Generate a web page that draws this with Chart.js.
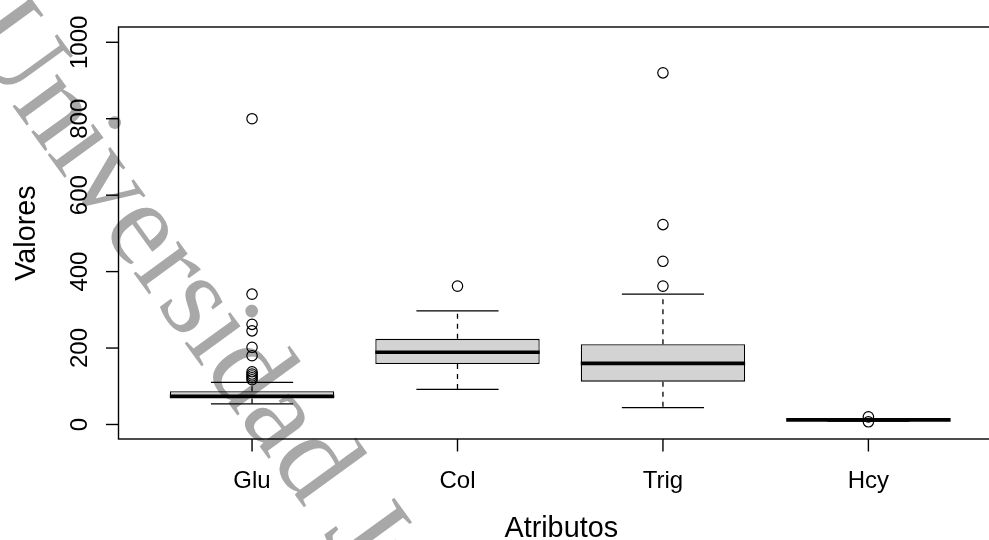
<!DOCTYPE html>
<html>
<head>
<meta charset="utf-8">
<script src="https://cdn.jsdelivr.net/npm/chart.js@4.4.1/dist/chart.umd.min.js"></script>
<style>
  html, body { margin: 0; padding: 0; background: #fff; overflow: hidden; }
  #wrap { width: 989px; height: 540px; overflow: hidden; }
</style>
</head>
<body>
<div id="wrap"><canvas id="box-chart" width="1020" height="540"></canvas></div>
<script>
const categories = ['Glu', 'Col', 'Trig', 'Hcy'];
const lowerWhisker = [54, 92, 44, 9];
const q1Values = [68, 158, 112, 10.5];
const medianValues = [74, 189, 160, 12];
const q3Values = [87, 224, 210, 13];
const upperWhisker = [110, 297, 341, 15];
const outlierValues = [
  [800, 341, 262, 245, 202, 180, 138, 132, 127, 122, 117],
  [362],
  [920, 523, 427, 362],
  [20, 7],
];
const yTicks = [0, 200, 400, 600, 800, 1000];
const xTitle = 'Atributos';
const yTitle = 'Valores';
const watermark = 'Universidad Juárez';

const BOX_HALF = 0.4;
const CAP_HALF = 0.2;
const PLOT_RIGHT = 1004; // el gráfico original está recortado a la derecha
const SANS = '"Liberation Sans", Arial, sans-serif';

// segmentos horizontales separados por null
const segments = (vals, half) =>
  vals.flatMap((v, i) => [
    { x: i + 1 - half, y: v },
    { x: i + 1 + half, y: v },
    { x: i + 1.5, y: null },
  ]);

const stems = categories.flatMap((c, i) => [
  { x: i + 1, y: q3Values[i] },
  { x: i + 1, y: upperWhisker[i] },
  { x: i + 1.5, y: null },
  { x: i + 1, y: q1Values[i] },
  { x: i + 1, y: lowerWhisker[i] },
  { x: i + 1.5, y: null },
]);

const outlierPoints = outlierValues.flatMap((vals, i) => vals.map(v => ({ x: i + 1, y: v })));

const framePlugin = {
  id: 'rframe',
  afterDraw(chart) {
    const { ctx, chartArea: a, scales } = chart;
    const xs = scales.x, ys = scales.y;
    ctx.save();
    ctx.strokeStyle = '#000';
    ctx.lineWidth = 1.4;
    ctx.strokeRect(a.left, a.top, a.right - a.left, a.bottom - a.top);

    // ticks eje y
    ctx.fillStyle = '#000';
    ctx.font = '24px ' + SANS;
    yTicks.forEach(t => {
      const py = ys.getPixelForValue(t);
      ctx.beginPath();
      ctx.moveTo(a.left - 12.5, py);
      ctx.lineTo(a.left, py);
      ctx.stroke();
      ctx.save();
      ctx.translate(87, py);
      ctx.rotate(-Math.PI / 2);
      ctx.textAlign = 'center';
      ctx.textBaseline = 'alphabetic';
      ctx.fillText(String(t), 0, 0);
      ctx.restore();
    });

    // ticks eje x
    xs.ticks.forEach(t => {
      const px = xs.getPixelForValue(t.value);
      ctx.beginPath();
      ctx.moveTo(px, a.bottom);
      ctx.lineTo(px, a.bottom + 12.5);
      ctx.stroke();
      ctx.textAlign = 'center';
      ctx.textBaseline = 'alphabetic';
      ctx.fillText(categories[t.value - 1], px, 487.5);
    });

    // títulos
    ctx.font = '28.8px ' + SANS;
    ctx.textAlign = 'center';
    ctx.fillText(xTitle, (a.left + a.right) / 2, 536.5);
    ctx.save();
    ctx.translate(35, (a.top + a.bottom) / 2);
    ctx.rotate(-Math.PI / 2);
    ctx.fillText(yTitle, 0, 0);
    ctx.restore();

    // marca de agua
    ctx.globalCompositeOperation = 'multiply';
    ctx.fillStyle = '#a8a8a8';
    ctx.font = '120px "Liberation Serif", "DejaVu Serif", serif';
    ctx.textAlign = 'left';
    ctx.translate(-40, 34);
    ctx.rotate(54 * Math.PI / 180);
    ctx.fillText(watermark, 0, 0);
    ctx.restore();
  },
};

const lineDefaults = {
  type: 'line',
  borderColor: '#000',
  pointRadius: 0,
  fill: false,
  tension: 0,
  spanGaps: false,
};

const chart = new Chart(document.getElementById('box-chart').getContext('2d'), {
  type: 'bar',
  data: {
    datasets: [
      { ...lineDefaults, label: 'mediana', data: segments(medianValues, BOX_HALF), borderWidth: 3.6, borderCapStyle: 'butt' },
      {
        type: 'scatter',
        label: 'atípicos',
        data: outlierPoints,
        pointRadius: 5.2,
        pointStyle: 'circle',
        backgroundColor: 'rgba(0,0,0,0)',
        borderColor: '#000',
        borderWidth: 1.2,
      },
      { ...lineDefaults, label: 'extremos', data: segments(lowerWhisker, CAP_HALF).concat(segments(upperWhisker, CAP_HALF)), borderWidth: 1.3 },
      { ...lineDefaults, label: 'bigotes', data: stems, borderWidth: 1.3, borderDash: [5, 5] },
      {
        type: 'bar',
        label: 'caja',
        data: categories.map((c, i) => ({ x: i + 1, y: [q1Values[i], q3Values[i]] })),
        backgroundColor: '#d3d3d3',
        borderColor: '#000',
        borderWidth: 1.3,
        borderSkipped: false,
        barPercentage: BOX_HALF * 2,
        categoryPercentage: 1,
      },
    ],
  },
  options: {
    responsive: false,
    animation: false,
    devicePixelRatio: 1,
    layout: { padding: { left: 118.5, top: 27, right: 16, bottom: 101 } },
    plugins: { legend: { display: false }, tooltip: { enabled: false } },
    scales: {
      x: {
        type: 'linear',
        display: false,
        min: 0.35,
        max: 4.66,
        offset: false,
        afterBuildTicks: (scale) => { scale.ticks = categories.map((c, i) => ({ value: i + 1 })); },
      },
      y: {
        type: 'linear',
        display: false,
        min: -38,
        max: 1040,
      },
    },
  },
  plugins: [framePlugin],
});

// ajustar el borde derecho del área al recorte del original
const diff = chart.chartArea.right - PLOT_RIGHT;
if (Math.abs(diff) > 0.5) {
  chart.options.layout.padding.right += diff;
  chart.update();
}
</script>
</body>
</html>
